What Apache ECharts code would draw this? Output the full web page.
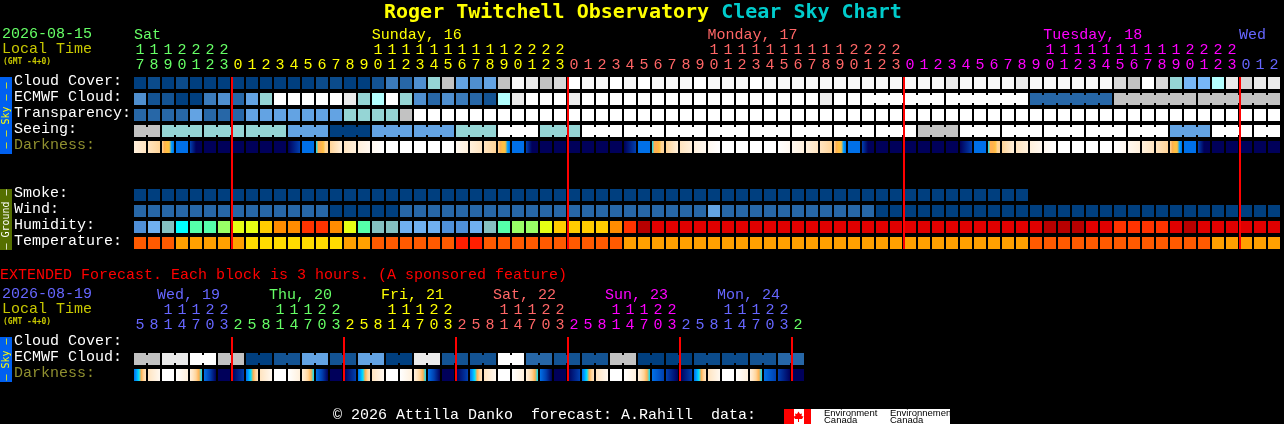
<!DOCTYPE html>
<html><head><meta charset="utf-8">
<style>html,body{margin:0;padding:0;background:#000}#c{width:1284px;height:424px}</style>
<script src="https://cdn.jsdelivr.net/npm/echarts@6/dist/echarts.min.js"></script>
</head><body><div id="c"></div>
<script>
// ---------- tick labels ----------
const mainUnits = '7 8 9 0 1 2 3 0 1 2 3 4 5 6 7 8 9 0 1 2 3 4 5 6 7 8 9 0 1 2 3 0 1 2 3 4 5 6 7 8 9 0 1 2 3 4 5 6 7 8 9 0 1 2 3 0 1 2 3 4 5 6 7 8 9 0 1 2 3 4 5 6 7 8 9 0 1 2 3 0 1 2'.split(' ');
const mainTens  = ['1','1','1','2','2','2','2','','','','','','','','','','','1','1','1','1','1','1','1','1','1','1','2','2','2','2','','','','','','','','','','','1','1','1','1','1','1','1','1','1','1','2','2','2','2','','','','','','','','','','','1','1','1','1','1','1','1','1','1','1','2','2','2','2','','',''];
const extUnits  = '5 8 1 4 7 0 3 2 5 8 1 4 7 0 3 2 5 8 1 4 7 0 3 2 5 8 1 4 7 0 3 2 5 8 1 4 7 0 3 2 5 8 1 4 7 0 3 2'.split(' ');
const extTens   = ['','','1','1','1','2','2','','','','1','1','1','2','2','','','','1','1','1','2','2','','','','1','1','1','2','2','','','','1','1','1','2','2','','','','1','1','1','2','2',''];
const mainDays  = {0:'Sat',17:'Sunday, 16',41:'Monday, 17',65:'Tuesday, 18',79:'Wed'};
const extDays   = {2:'Wed, 19',10:'Thu, 20',18:'Fri, 21',26:'Sat, 22',34:'Sun, 23',42:'Mon, 24'};
const mainRows  = ['Cloud Cover:','ECMWF Cloud:','Transparency:','Seeing:','Darkness:',' ','  ','Smoke:','Wind:','Humidity:','Temperature:'];
const extRows   = ['Cloud Cover:','ECMWF Cloud:','Darkness:'];
const mainMidnights = [7,31,55,79];
const extMidnights  = [7,15,23,31,39,47];

// ---------- series values ----------
const cloudCover = [0,1,0,1,0,0,0,0,0,0, 0,0,0,1,1,0,0,2,4,3, 5,8,10,6,5,6,10,13,12,10, 11,14,13,13,14,13,14,13,13,13, 14,13,13,13,14,13,13,13,13,13, 13,13,13,13,13,13,13,13,12,13, 13,13,13,12,13,13,13,13,13,13, 11,10,14,11,8,7,7,9,12,11,12,12];
const ecmwfCloud = [5,2,2,0,0,4,5,3,6,8, 14,14,14,14,14,12,8,9,14,8, 5,3,5,4,3,2,9,12,14,14, 14,12,14,14,14,14,14,14,14,14, 14,14,14,14,14,14,14,14,14,12, 14,14,14,14,14,14,14,14,14,14, 14,14,14,14,3,3,3,3,3,3, 10,10,10,10,10,10,10,10,10,10,10,10];
const transparency = [3,3,3,3,6,3,3,3,6,6, 6,6,6,6,6,8,8,8,8,10, 14,14,14,14,14,14,14,14,14,14, 14,14,14,14,14,14,14,14,14,14, 14,14,14,14,14,14,14,14,14,14, 14,14,14,14,14,14,14,14,14,14, 14,14,14,14,14,14,14,14,14,14, 14,14,14,14,14,14,14,14,14,14,14,14];
const seeing = [10,10,8,8,8,8,8,8,8,8, 8,6,6,6,0,0,0,6,6,6, 6,6,6,8,8,8,14,14,14,8, 8,8,14,14,14,14,14,14,14,14, 14,14,14,14,14,14,14,14,14,14, 14,14,14,14,14,14,10,10,10,14, 14,14,14,14,14,14,14,14,14,14, 14,14,14,14,6,6,6,14,14,14,14,14];
const darkness = ['23','34','456689','99','abb','bb','bb','bb','bb','bb','bb','ba','99','755644','42','32','21','10','00','00','00','00','00','12','23','34','456689','99','abb','bb','bb','bb','bb','bb','bb','ba','99','755644','42','32','21','10','00','00','00','00','01','12','23','34','456689','99','abb','bb','bb','bb','bb','bb','bb','ba','99','755644','42','32','21','10','00','00','00','00','01','12','23','34','456689','99','abb','bb','bb','bb','bb','bb'];
const smoke = [0,0,0,0,0,0,0,0,0,0, 0,0,0,0,0,0,0,0,0,0, 0,0,0,0,0,0,0,0,0,0, 0,0,0,0,0,0,0,0,0,0, 0,0,0,0,0,0,0,0,0,0, 0,0,0,0,0,0,0,0,0,0, 0,0,0,0];
const wind = [3,3,3,3,3,3,3,3,3,3, 3,3,3,3,0,0,0,0,0,3, 3,3,3,3,3,3,3,3,3,3, 3,3,3,3,3,3,3,3,3,3, 3,6,3,3,3,3,3,3,3,3, 3,3,3,0,0,0,0,0,0,0, 0,0,0,0,0,0,0,0,0,0, 0,0,0,0,0,0,0,0,0,0,0,0];
const humidity = [42,47,52,57,62,62,67,72,72,77, 82,82,87,87,82,72,62,52,52,47, 47,47,42,42,47,52,62,67,67,72, 77,77,77,77,82,87,97,92,92,92, 92,92,92,92,92,92,92,92,92,92, 92,92,92,92,92,92,92,92,92,92, 92,92,92,92,92,97,97,97,92,92, 87,87,87,87,92,97,92,92,92,92,92,92];
const temperature = [22,22,22,18,18,18,18,18,14,14, 14,14,14,14,14,18,18,22,22,22, 22,22,22,26,26,22,22,22,22,22, 22,22,22,22,22,18,18,18,18,18, 18,18,18,18,18,18,18,18,18,18, 18,18,18,18,18,18,18,18,18,18, 18,18,18,18,22,22,22,22,22,22, 22,22,22,22,22,22,22,18,18,18,18,18];
const extEcmwf = [10,10,12,12,14,14,10,10,0,0,2,2,6,6,2,2,6,6,0,0,12,12,2,2,2,2,14,14,3,3,2,2,2,2,10,10,0,0,0,0,1,1,1,1,2,2,3,3];
const extDarkness = ['987543','31','00','02','23457','9ab','bb','ba','987543','31','00','02','23457','9ab','bb','ba','987543','31','00','02','23457','9ab','bb','ba','987543','31','00','02','23457','9ab','bb','ba','987543','31','00','02','23457','9a','ab','ba','987543','31','00','02','23457','9a','ab','bb'];

// block lengths (runs of joined cells)
const ecmwfRuns = [1,1,1,1,1,1,1,1,1,1,1,1,1,1,1,1,1,1,1,1,1,1,1,1,1,1,1,1,1,1,1,1,1,1,1,1,1,1,1,1,1,1,1,1,1,1,1,1,1,1,1,1,6,6,6,6,6];
const seeingRuns = [2,3,3,3,3,3,3,3,3,3,3,3,3,3,3,3,3,3,3,3,3,3,3,3,3,3,3,2];
const extRuns = [2,2,2,2,2,2,2,2,2,2,2,2,2,2,2,2,2,2,2,2,2,2,2,2];

// ---------- colour scales ----------
const skyPalette = ['#003f7f','#0b4b8b','#135393','#2767a7','#3b7bbb','#4f8fcf','#63a3e3','#77b7f7','#95d5d5','#b3ffff','#c2c2c2','#d8d8d8','#ebebeb','#f8f8f8','#ffffff'];
const humidityPalette = ['#4f8fd7','#70b0f0','#85c0c0','#00ffff','#55ffaa','#99ff66','#e6ff14','#ffcc00','#ff8c00','#ff3300','#e00000','#b80000'];
const tempPalette = ['#ffdc00','#ffa000','#ff5a00','#ff1e00'];
const darkPalette = {'0':'#ffffff','1':'#fff8f0','2':'#fff0dc','3':'#ffe4c0','4':'#ffd498','5':'#ffb050','6':'#ffc040','7':'#00e0ff','8':'#00a0ff','9':'#0070e8','a':'#0040b0','b':'#00005a'};
const GREEN='#66ff66',YEL='#ffff00',SALM='#ff6666',MAG='#ff00ff',BLUE='#6666ff';
const MONO='"DejaVu Sans Mono",monospace', THIN='"Liberation Mono",monospace';

function mainDayColor(i){return i<7?GREEN:i<31?YEL:i<55?SALM:i<79?MAG:BLUE;}
function extDayColor(i){return i<7?BLUE:i<15?GREEN:i<23?YEL:i<31?SALM:i<39?MAG:i<47?BLUE:GREEN;}
function rowLabelColor(v){return v==='Darkness:'?'#8f8f2f':'#ffffff';}
function joinsFrom(runs){const out=[];runs.forEach(r=>{for(let k=0;k<r;k++)out.push(k<r-1?1:0);});return out;}

const cellRender = (params, api) => {
  const c = api.coord([api.value(0), api.value(1)]);
  const fill = api.value(2);
  const kids = [{type:'rect',shape:{x:c[0]-6,y:c[1]-6,width:12,height:12},style:{fill:fill}}];
  if (api.value(3)) kids.push({type:'rect',shape:{x:c[0]+6,y:c[1]-4,width:2,height:8},style:{fill:fill}});
  return {type:'group',children:kids};
};
const gradRender = (params, api) => {
  const c = api.coord([api.value(0), api.value(1)]);
  const s = String(api.value(2)); const n = s.length-1;
  const stops = s.split('').map((ch,i)=>({offset:i/n,color:darkPalette[ch]}));
  return {type:'rect',shape:{x:c[0]-6,y:c[1]-6,width:12,height:12},
    style:{fill:new echarts.graphic.LinearGradient(0,0,1,0,stops)}};
};
function cells(idx,row,vals,toColor,runs){
  const j = runs?joinsFrom(runs):[];
  return {type:'custom',xAxisIndex:idx,yAxisIndex:idx,renderItem:cellRender,silent:true,animation:false,z:2,clip:false,
    encode:{x:0,y:1},data:vals.map((v,i)=>[i,row,toColor(v),j[i]||0])};
}
function grads(idx,row,vals){
  return {type:'custom',xAxisIndex:idx,yAxisIndex:idx,renderItem:gradRender,silent:true,animation:false,z:2,clip:false,
    encode:{x:0,y:1},dimensions:['x','y',{name:'s',type:'ordinal'}],data:vals.map((v,i)=>[i,row,v])};
}
function redLines(idx,cols,lastRow){
  return {type:'custom',xAxisIndex:idx,yAxisIndex:idx,silent:true,animation:false,z:10,clip:false,encode:{x:0,y:1},
    renderItem:(p,api)=>{const a=api.coord([api.value(0),0]),b=api.coord([api.value(0),lastRow]);
      return {type:'rect',z2:100,shape:{x:a[0]-7,y:a[1]-6,width:2,height:b[1]-a[1]+12},style:{fill:'#ff0000'}};},
    data:cols.map(c=>[c,0])};
}
const sky=v=>skyPalette[v], hum=v=>humidityPalette[Math.floor((v-40)/5)], tmp=v=>tempPalette[Math.floor((v-12)/4)];

function digitAxis(gridIndex,data,colorFn,offset){
  return {type:'category',gridIndex,position:'top',data,offset,boundaryGap:true,
    axisLine:{show:false},axisTick:{show:false},splitLine:{show:false},
    axisLabel:{interval:0,margin:2,hideOverlap:false,fontFamily:THIN,fontSize:15,color:(v,i)=>colorFn(i)}};
}
function dayAxis(gridIndex,map,count,colorFn){
  const data=[];for(let i=0;i<count;i++)data.push(map[i]||'');
  return {type:'category',gridIndex,position:'top',data,boundaryGap:false,
    axisLine:{show:false},axisTick:{show:false},splitLine:{show:false},
    axisLabel:{interval:0,margin:2,align:'left',hideOverlap:false,fontFamily:THIN,fontSize:15,color:(v,i)=>colorFn(i)}};
}
function rowAxis(gridIndex,data){
  return {type:'category',gridIndex,data,inverse:true,
    axisLine:{show:false},axisTick:{show:false},splitLine:{show:false},
    axisLabel:{interval:0,margin:119,align:'left',verticalAlign:'bottom',lineHeight:4,hideOverlap:false,fontFamily:THIN,fontSize:15,color:rowLabelColor}};
}
const hiddenY = g => ({type:'category',gridIndex:g,show:false,data:['']});
function headerText(x,y,text,fill,font){return {type:'text',silent:true,style:{x,y,text,fill,font:font||('15px '+THIN),verticalAlign:'middle'}};}
function sideBar(y,h,color,text,fill){
  return [{type:'rect',silent:true,shape:{x:0,y,width:12,height:h},style:{fill:color}},
    {type:'text',silent:true,x:6,y:y+h/2,rotation:Math.PI/2,style:{x:0,y:0,text,fill,font:'10px '+MONO,align:'center',verticalAlign:'middle'}}];
}

const option = {
  backgroundColor:'#000000',animation:false,
  title:{left:384,top:1,itemGap:0,padding:0,text:'{a|Roger Twitchell Observatory }{b|Clear Sky Chart}',
    textStyle:{rich:{a:{color:'#ffff00',fontFamily:MONO,fontWeight:'bold',fontSize:20,lineHeight:24},b:{color:'#00cccc',fontFamily:MONO,fontWeight:'bold',fontSize:20,lineHeight:24}}}},
  grid:[
    {left:133,top:75,width:1148,height:176},
    {left:133,top:335,width:672,height:48},
    {left:134,top:45,width:1148,height:1},
    {left:129,top:305,width:658,height:1}
  ],
  xAxis:[
    digitAxis(0,mainUnits,mainDayColor,0),
    digitAxis(1,extUnits,extDayColor,0),
    dayAxis(2,mainDays,83,i=>i<17?GREEN:i<41?YEL:i<65?SALM:i<79?MAG:BLUE),
    dayAxis(3,extDays,48,i=>({2:BLUE,10:GREEN,18:YEL,26:SALM,34:MAG,42:BLUE})[i]||BLUE),
    digitAxis(0,mainTens,mainDayColor,15),
    digitAxis(1,extTens,extDayColor,15)
  ],
  yAxis:[rowAxis(0,mainRows),rowAxis(1,extRows),hiddenY(2),hiddenY(3)],
  series:[
    cells(0,0,cloudCover,sky),
    cells(0,1,ecmwfCloud,sky,ecmwfRuns),
    cells(0,2,transparency,sky),
    cells(0,3,seeing,sky,seeingRuns),
    grads(0,4,darkness),
    cells(0,7,smoke,sky),
    cells(0,8,wind,sky),
    cells(0,9,humidity,hum),
    cells(0,10,temperature,tmp),
    redLines(0,mainMidnights,10),
    cells(1,1,extEcmwf,sky,extRuns),
    grads(1,2,extDarkness),
    redLines(1,extMidnights,2)
  ],
  graphic:{elements:[].concat(
    [headerText(2,34,'2026-08-15',GREEN),headerText(2,49,'Local Time','#c8c800'),headerText(3,62,'(GMT -4+0)','#c8c800','bold 8px '+MONO),
     headerText(0,275,'EXTENDED Forecast. Each block is 3 hours. (A sponsored feature)','#ff0000'),
     headerText(2,294,'2026-08-19',BLUE),headerText(2,309,'Local Time','#c8c800'),headerText(3,322,'(GMT -4+0)','#c8c800','bold 8px '+MONO),
     headerText(333,415,'\u00a9 2026 Attilla Danko  forecast: A.Rahill  data:','#ffffff')],
    sideBar(77,77,'#0060f0','\u2014 \u2014 Sky \u2014 \u2014','#ffff00'),
    sideBar(189,61,'#556f00','\u2014 Ground \u2014','#ffffff'),
    sideBar(337,45,'#0060f0','\u2014 Sky \u2014','#ffff00'),
    [{type:'rect',silent:true,shape:{x:784,y:409,width:166,height:15},style:{fill:'#ffffff'}},
     {type:'rect',silent:true,shape:{x:784,y:409,width:10,height:15},style:{fill:'#ff0000'}},
     {type:'rect',silent:true,shape:{x:804,y:409,width:7,height:15},style:{fill:'#ff0000'}},
     {type:'polygon',silent:true,shape:{points:[[798.5,411.5],[800,414],[802,413.5],[801.5,416],[803.5,416.5],[802,419],[799,419],[799,422],[798,422],[798,419],[795,419],[793.5,416.5],[795.5,416],[795,413.5],[797,414]]},style:{fill:'#ff0000'}},
     headerText(824,413.5,'Environment','#000000','9.5px "Liberation Sans"'),
     headerText(824,420,'Canada','#000000','9.5px "Liberation Sans"'),
     headerText(890,413.5,'Environnement','#000000','9.5px "Liberation Sans"'),
     headerText(890,420,'Canada','#000000','9.5px "Liberation Sans"')]
  )}
};
echarts.init(document.getElementById('c'),null,{renderer:'canvas',width:1284,height:424}).setOption(option);
</script></body></html>
